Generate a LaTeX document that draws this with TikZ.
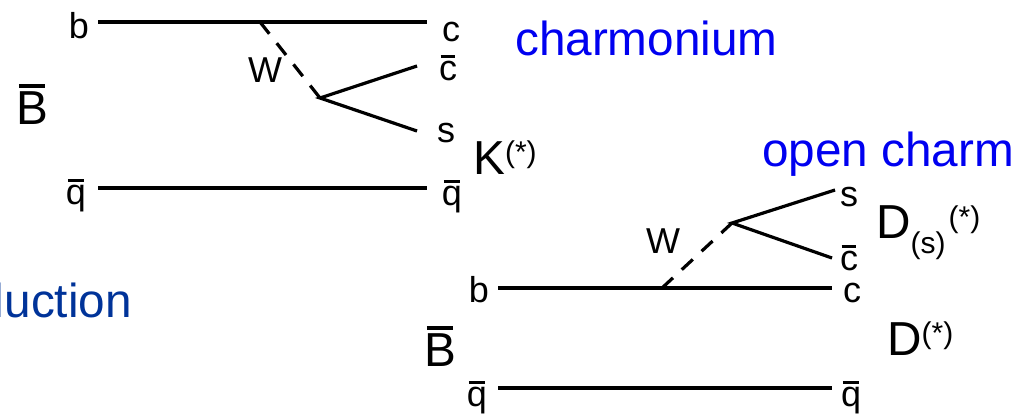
\documentclass[tikz,border=0pt]{standalone}
\usepackage{fontspec}
\setmainfont{Liberation Sans}
\definecolor{blueA}{RGB}{0,0,240}
\definecolor{blueB}{RGB}{0,51,153}
\tikzset{
 lbl/.style={inner sep=0pt,font=\fontsize{36}{38}\selectfont,anchor=base},
 big/.style={inner sep=0pt,font=\fontsize{47.7}{49}\selectfont,anchor=base},
 ln/.style={line width=3.2pt},
 wl/.style={line width=3.2pt,dash pattern=on 15pt off 12pt},
}
\newcommand{\ol}[1]{\setbox0=\hbox{#1}\hbox{\rlap{\raise\dimexpr\ht0+0.075em\relax\hbox to\wd0{\hfil\vrule width .82\wd0 height .07em depth 0pt\hfil}}\box0}}
\newcommand{\supx}[2]{\raisebox{#1}{\fontsize{30}{31}\selectfont #2}}
\begin{document}
\begin{tikzpicture}[x=1pt,y=-1pt]
\useasboundingbox (0,0) rectangle (1032,416);
\coordinate (a1) at (98,22); \coordinate (a2) at (427,22);
\coordinate (b1) at (98,188); \coordinate (b2) at (427,188);
\coordinate (v1) at (260,22); \coordinate (v2) at (320,98);
\coordinate (c1) at (417,66); \coordinate (c2) at (417,131);
\draw[ln] (a1)--(a2); \draw[ln] (b1)--(b2);
\draw[wl] (v1)--(v2); \draw[ln] (c1)--(v2)--(c2);
\coordinate (d1) at (498,288); \coordinate (d2) at (832,288);
\coordinate (e1) at (498,388); \coordinate (e2) at (832,388);
\coordinate (w1) at (662,288); \coordinate (w2) at (732,223);
\coordinate (f1) at (835,190); \coordinate (f2) at (832,258);
\draw[ln] (d1)--(d2); \draw[ln] (e1)--(e2);
\draw[wl] (w1)--(w2); \draw[ln] (f1)--(w2)--(f2);
\node[lbl] (t1) at (79,38) {b};
\node[lbl] (t2) at (451,41) {c};
\node[lbl] (t3) at (448,80) {\ol{c}};
\node[lbl] (t4) at (446,142) {s};
\node[lbl] (t5) at (76,204) {\ol{q}};
\node[lbl] (t6) at (452,205) {\ol{q}};
\node[lbl] (t7) at (265,82) {W};
\node[big] (t8) at (32,124) {\ol{B}};
\node[big,anchor=base west] (t9) at (473,174) {K\supx{12pt}{(*)}};
\node[big,anchor=base west,text=blueA] (t10) at (515,55) {charmonium};
\node[big,anchor=base west,text=blueA] (t11) at (762,166) {open charm};
\node[big,anchor=base east,text=blueB] (t12) at (132,317) {luction};
\node[lbl] (t13) at (479,302) {b};
\node[lbl] (t14) at (852,302) {c};
\node[lbl] (t15) at (849,206) {s};
\node[lbl] (t16) at (849,270) {\ol{c}};
\node[lbl] (t17) at (477,406) {\ol{q}};
\node[lbl] (t18) at (851,406) {\ol{q}};
\node[lbl] (t19) at (663,253) {W};
\node[big] (t20) at (440,366) {\ol{B}};
\node[big,anchor=base west] (t21) at (876,238) {D\supx{-15pt}{(s)}\hspace{3pt}\supx{11pt}{(*)}};
\node[big,anchor=base west] (t22) at (887,355) {D\supx{12pt}{(*)}};
\end{tikzpicture}
\end{document}
